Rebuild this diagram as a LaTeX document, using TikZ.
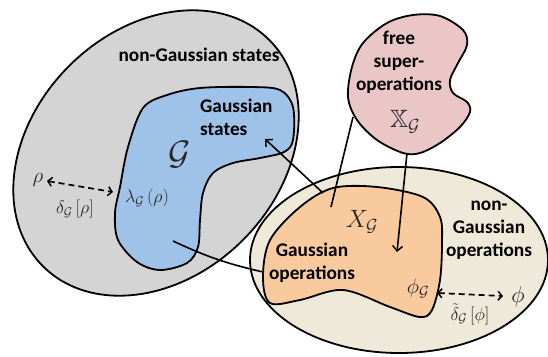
\RequirePackage{fix-cm}
\documentclass[tikz,border=0pt]{standalone}
\usepackage{amssymb}
\usepackage{fontspec}
\setmainfont{Carlito}
\usetikzlibrary{arrows.meta}
\definecolor{grayfill}{HTML}{D4D4D4}
\definecolor{bluefill}{HTML}{9FC2E8}
\definecolor{pinkfill}{HTML}{EAC6C6}
\definecolor{orangefill}{HTML}{F9CA9E}
\definecolor{beigefill}{HTML}{EEE9D8}
\definecolor{mathgray}{HTML}{262626}
\tikzset{
  region/.style={draw=black, line width=1.8pt},
  lbl/.style={inner sep=0pt, font=\fontsize{19.3}{23}\selectfont\bfseries, align=center},
  mlbl/.style={inner sep=0pt, text=mathgray, font=\fontsize{20}{22}\selectfont},
  conn/.style={draw=black, line width=1.6pt},
  arr/.style={conn, -{Straight Barb[length=5pt,width=10pt,line width=1.5pt]}},
  darr/.style={draw=black, line width=1.7pt, dashed, dash pattern=on 6pt off 4pt,
    {Straight Barb[length=4pt,width=9pt,line width=1.5pt]}-{Straight Barb[length=4pt,width=9pt,line width=1.5pt]}}
}
\begin{document}
\begin{tikzpicture}[x=1pt,y=-1pt]
\useasboundingbox (0,0) rectangle (548,356);
% non-Gaussian states ellipse
\draw[region, fill=grayfill, rotate around={45:(156,153)}] (156,153) ellipse [x radius=160, y radius=123];
% Gaussian states blob
\draw[region, fill=bluefill] plot[smooth cycle, tension=0.55] coordinates {
 (143,108) (167,95) (200,88) (250,87) (280,90) (293,107) (293,140) (284,152)
 (260,158) (233,163) (213,173) (203,193) (200,220) (198,247) (187,263) (160,270)
 (137,262) (118,240) (115,213) (120,187) (128,147)};
% non-Gaussian operations ellipse
\draw[region, fill=beigefill] (399,260) ellipse [x radius=149, y radius=93];
% Gaussian operations blob
\draw[region, fill=orangefill] plot[smooth cycle, tension=0.55] coordinates {
 (333,188) (377,187) (423,197) (440,217) (442,243) (440,280) (432,310) (420,317)
 (390,307) (343,290) (300,300) (270,303) (263,277) (270,240) (300,207)};
% free super-operations blob
\draw[region, fill=pinkfill] plot[smooth cycle, tension=0.55] coordinates {
 (413,15) (440,16) (463,30) (467,45) (458,63) (450,80) (453,93) (467,102) (470,112)
 (460,127) (440,143) (420,153) (403,153) (377,140) (357,120) (348,97) (352,67)
 (363,43) (387,23)};
% connector end points
\coordinate (gsA) at (265,139);
\coordinate (goA) at (323,193);
\coordinate (gsB) at (173,241);
\coordinate (goB) at (263,272);
\coordinate (fsA) at (353,117);
\coordinate (goC) at (331,207);
\coordinate (fsB) at (407,153);
\coordinate (goD) at (397,252);
\draw[arr] (goA) -- (gsA);
\draw[conn] (gsB) to[bend right=6] (goB);
\draw[conn] (fsA) -- (goC);
\draw[arr] (fsB) -- (goD);
% labels
\node[lbl] (ngs) at (199,55) {non-Gaussian states};
\node[lbl, align=left, anchor=west] (gs) at (200,117) {Gaussian\\states};
\node[mlbl, font=\fontsize{34}{36}\selectfont] (calG) at (180,155) {$\mathcal{G}$};
\node[mlbl, font=\fontsize{21}{23}\selectfont] (rho) at (38,180) {$\rho$};
\node[mlbl, font=\fontsize{18}{20}\selectfont] (drho) at (75,209) {$\delta_{\mathcal{G}}\left[\rho\right]$};
\node[mlbl, font=\fontsize{18}{20}\selectfont] (lam) at (147,198) {$\lambda_{\mathcal{G}}\left(\rho\right)$};
\node[lbl] (fso) at (399,62) {free\\super-\\operations};
\node[mlbl, font=\fontsize{25}{27}\selectfont] (XX) at (405,122) {$\mathbb{X}_{\mathcal{G}}$};
\node[mlbl, font=\fontsize{25}{27}\selectfont] (XG) at (362,222) {$X_{\mathcal{G}}$};
\node[lbl] (gop) at (312,263) {Gaussian\\operations};
\node[lbl] (ngop) at (489,230) {non-\\Gaussian\\operations};
\node[mlbl, font=\fontsize{21}{23}\selectfont] (phiG) at (418,288) {$\phi_{\mathcal{G}}$};
\node[mlbl, font=\fontsize{23}{25}\selectfont] (phi) at (518,297) {$\phi$};
\node[mlbl, font=\fontsize{18}{20}\selectfont] (dphi) at (470,314) {$\tilde{\delta}_{\mathcal{G}}\left[\phi\right]$};
\coordinate (rhoA) at (47,181);
\coordinate (lamA) at (113,192);
\coordinate (phiA) at (437,293);
\coordinate (phiB) at (503,296);
\draw[darr] (rhoA) -- (lamA);
\draw[darr] (phiA) -- (phiB);
\end{tikzpicture}
\end{document}
